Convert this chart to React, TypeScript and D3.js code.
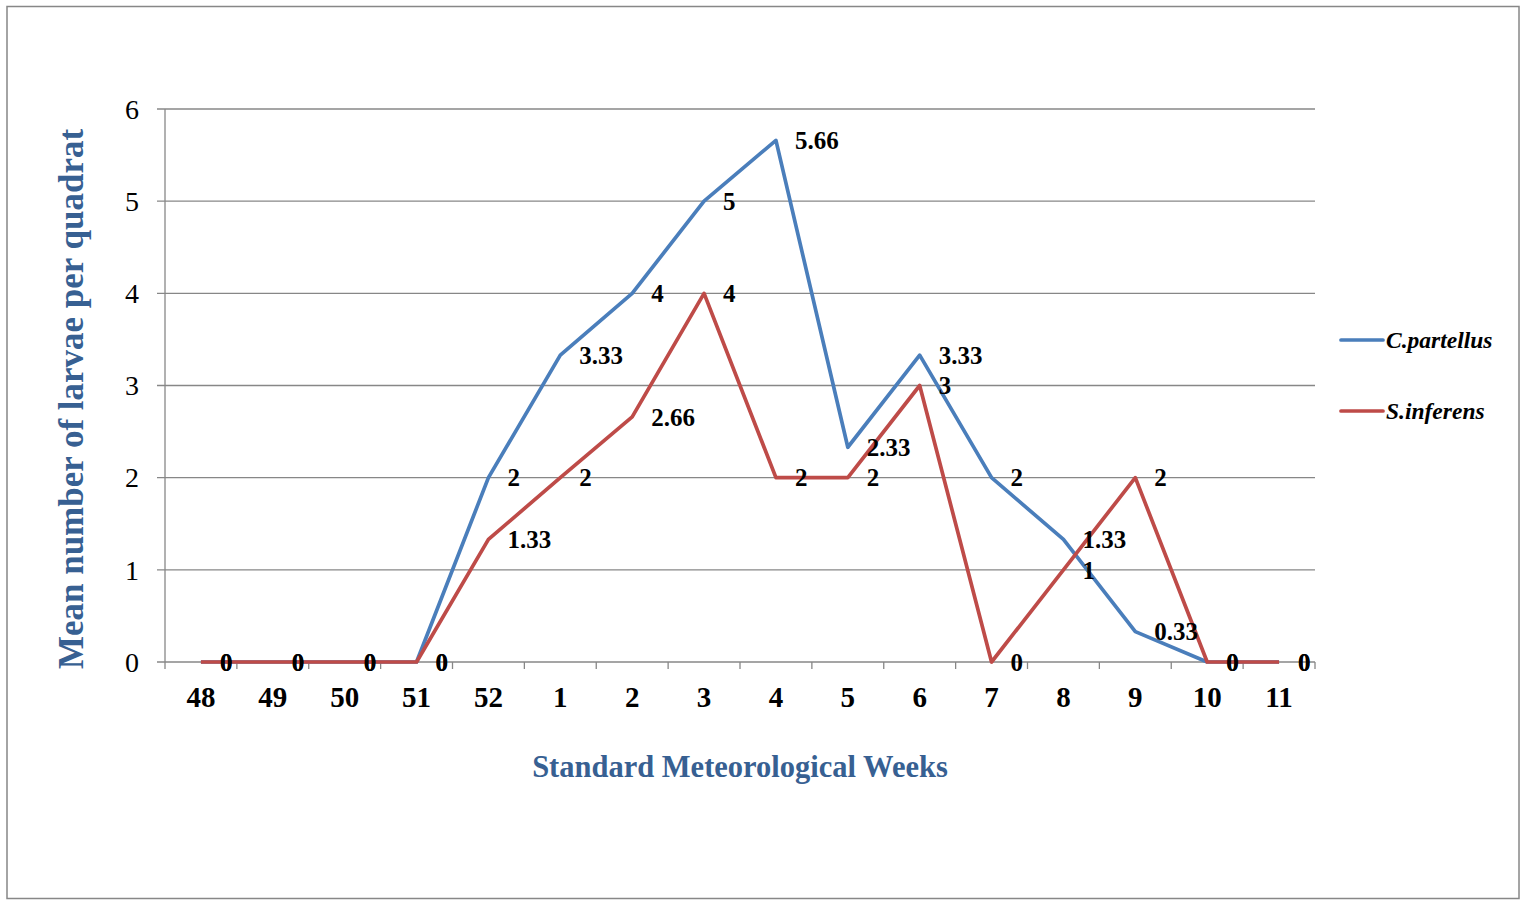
import React from "react";
import * as d3 from "d3";

const weeks = ["48", "49", "50", "51", "52", "1", "2", "3", "4", "5", "6", "7", "8", "9", "10", "11"];
const cPartellus = [0, 0, 0, 0, 2, 3.33, 4, 5, 5.66, 2.33, 3.33, 2, 1.33, 0.33, 0, 0];
const sInferens = [0, 0, 0, 0, 1.33, 2, 2.66, 4, 2, 2, 3, 0, 1, 2, 0, 0];
const yTicks = [0, 1, 2, 3, 4, 5, 6];

const series = [
  { name: "C.partellus", values: cPartellus, color: "#4A7EBB" },
  { name: "S.inferens", values: sInferens, color: "#BE4B48" },
];

const W = 1521;
const H = 900;
const left = 165;
const right = 1315;
const top = 109;
const bottom = 662;
const FONT = "'Liberation Serif', 'Times New Roman', serif";
const TITLE = "#376092";

export default function App() {
  const x = d3.scaleBand<string>().domain(weeks).range([left, right]);
  const y = d3.scaleLinear().domain([0, 6]).range([bottom, top]);
  const cx = (w: string) => (x(w) as number) + x.bandwidth() / 2;
  const line = d3
    .line<number>()
    .x((_, i) => cx(weeks[i]))
    .y((d) => y(d));
  const boundaries = d3.range(weeks.length + 1).map((i) => left + i * x.bandwidth());

  return (
    <svg width={W} height={H} style={{ position: "absolute", left: 0, top: 0, background: "#fff" }}>
      <rect x={7} y={6.5} width={1512} height={892} fill="#fff" stroke="#878787" strokeWidth={1.5} />
      {yTicks.map((t) => (
        <g key={t}>
          <line x1={157} x2={right} y1={y(t)} y2={y(t)} stroke="#878787" strokeWidth={1.3} />
          <text x={139} y={y(t)} dy="0.35em" textAnchor="end" fontFamily={FONT} fontSize={28}>
            {t}
          </text>
        </g>
      ))}
      <line x1={left} x2={left} y1={top} y2={bottom} stroke="#878787" strokeWidth={1.3} />
      {boundaries.map((b, i) => (
        <line key={i} x1={b} x2={b} y1={bottom} y2={bottom + 7} stroke="#878787" strokeWidth={1.3} />
      ))}
      {weeks.map((w) => (
        <text key={w} x={cx(w)} y={707} textAnchor="middle" fontFamily={FONT} fontSize={29} fontWeight="bold">
          {w}
        </text>
      ))}
      {series.map((s) => (
        <path
          key={s.name}
          d={line(s.values) as string}
          fill="none"
          stroke={s.color}
          strokeWidth={3.7}
          strokeLinejoin="round"
        />
      ))}
      {series.map((s) =>
        s.values.map((v, i) => (
          <text
            key={s.name + i}
            x={cx(weeks[i]) + 19}
            y={y(v)}
            dy="0.35em"
            fontFamily={FONT}
            fontSize={25}
            fontWeight="bold"
          >
            {v}
          </text>
        ))
      )}
      <text
        transform={`translate(83, 399) rotate(-90)`}
        textAnchor="middle"
        fontFamily={FONT}
        fontSize={35}
        fontWeight="bold"
        fill={TITLE}
      >
        Mean number of larvae per quadrat
      </text>
      <text x={740} y={777} textAnchor="middle" fontFamily={FONT} fontSize={30.5} fontWeight="bold" fill={TITLE}>
        Standard Meteorological Weeks
      </text>
      {series.map((s, i) => (
        <g key={s.name} transform={`translate(0, ${340 + i * 71})`}>
          <line x1={1341} x2={1383} y1={0} y2={0} stroke={s.color} strokeWidth={3.7} strokeLinecap="round" />
          <text x={1386} y={0} dy="0.35em" fontFamily={FONT} fontSize={23.5} fontWeight="bold" fontStyle="italic">
            {s.name}
          </text>
        </g>
      ))}
    </svg>
  );
}
